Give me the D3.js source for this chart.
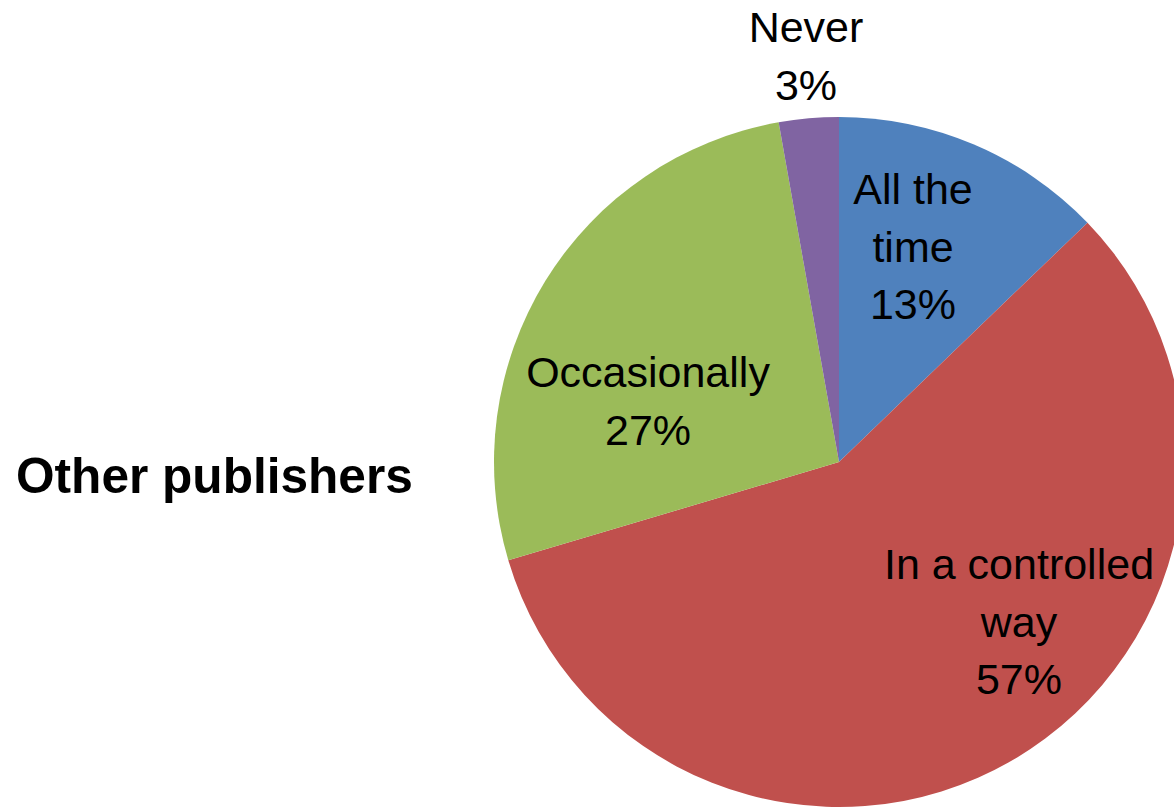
<!DOCTYPE html>
<html>
<head>
<meta charset="utf-8">
<script src="https://cdn.jsdelivr.net/npm/d3@7/dist/d3.min.js"></script>
<style>
  html, body { margin: 0; padding: 0; background: #ffffff; }
  svg { display: block; }
</style>
</head>
<body>
<svg id="chart" width="1174" height="807"></svg>
<script>
// ---- data ----
const categories = ["All the time", "In a controlled way", "Occasionally", "Never"];
const values = [12.8, 57.6, 26.8, 2.8];
const percentLabels = ["13%", "57%", "27%", "3%"];
const labelLines = [["All the", "time"], ["In a controlled", "way"], ["Occasionally"], ["Never"]];
const title = "Other publishers";

// ---- layout / style ----
const W = 1174, H = 807;
const cx = 839, cy = 462, radius = 345;
const colors = d3.scaleOrdinal().domain(categories)
  .range(["#4F81BD", "#C0504D", "#9BBB59", "#8064A2"]);
// label anchor: offset of text centre / first baseline from pie centre
const labelAnchors = [
  { dx: 74, dy: -258 },
  { dx: 180, dy: 117 },
  { dx: -191, dy: -75 },
  { dx: -33, dy: -420 }
];
const lineH = 57.7;
const fontFamily = "'Liberation Sans', Arial, sans-serif";

const svg = d3.select("#chart");

const pie = d3.pie().sort(null).value(d => d)(values);
const arc = d3.arc().innerRadius(0).outerRadius(radius);

const g = svg.append("g").attr("transform", `translate(${cx},${cy})`);

g.selectAll("path.slice")
  .data(pie)
  .join("path")
  .attr("class", "slice")
  .attr("d", arc)
  .attr("fill", (d, i) => colors(categories[i]));

const labels = g.selectAll("text.lbl")
  .data(pie)
  .join("text")
  .attr("class", "lbl")
  .attr("x", (d, i) => labelAnchors[i].dx)
  .attr("y", (d, i) => labelAnchors[i].dy)
  .attr("text-anchor", "middle")
  .attr("font-family", fontFamily)
  .attr("font-size", 43)
  .attr("fill", "#000");

labels.each(function(d, i) {
  const t = d3.select(this);
  const lines = labelLines[i].concat([percentLabels[i]]);
  lines.forEach((ln, k) => {
    t.append("tspan")
      .attr("x", labelAnchors[i].dx)
      .attr("dy", k === 0 ? 0 : lineH)
      .text(ln);
  });
});

svg.append("text")
  .attr("x", 16)
  .attr("y", 493)
  .attr("font-family", fontFamily)
  .attr("font-weight", "bold")
  .attr("font-size", 49.6)
  .attr("fill", "#000")
  .text(title);
</script>
</body>
</html>
